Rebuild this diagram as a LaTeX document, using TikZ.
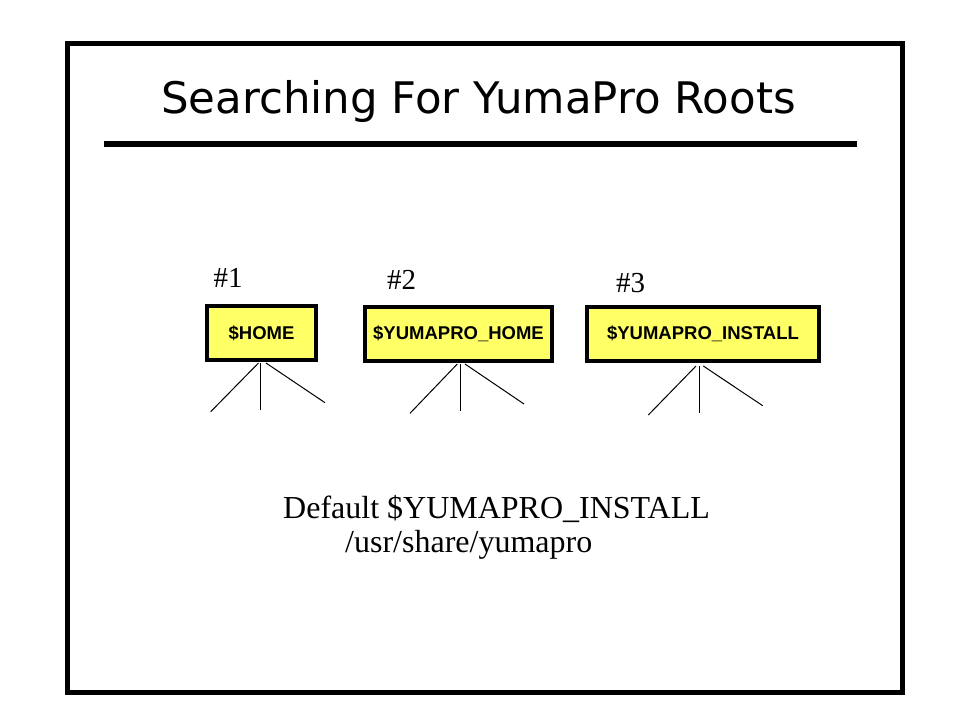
\documentclass[tikz,border=0pt]{standalone}
\usepackage{fontspec}
\setmainfont{Liberation Serif}
\newfontfamily\boxfont{Liberation Sans}
\newfontfamily\titlefont{DejaVu Sans}
\definecolor{boxyellow}{RGB}{255,255,102}
\begin{document}
\begin{tikzpicture}[x=1pt,y=-1pt,
  varbox/.style={draw=black,line width=4pt,fill=boxyellow,inner sep=0pt,
    minimum height=54pt,font=\boxfont\bfseries\fontsize{18.5}{22}\selectfont},
  numlabel/.style={anchor=base,inner sep=0pt,font=\fontsize{29}{32}\selectfont},
  branch/.style={line width=1pt,black},
  bodytext/.style={anchor=base west,inner sep=0pt,font=\fontsize{32}{36}\selectfont}]
\useasboundingbox (0,0) rectangle (960,720);
\draw[line width=5pt] (67.5,43) rectangle (902.5,692.5);
\node[anchor=base,inner sep=0pt,font=\titlefont\fontsize{43.5}{50}\selectfont] (title) at (478.5,113) {Searching For YumaPro Roots};
\draw[line width=6pt] (104,144) coordinate (rl) -- (857,144) coordinate (rr);
\node[varbox,minimum width=109pt] (b1) at (261.5,333) {\$HOME};
\node[varbox,minimum width=187pt] (b2) at (458.5,334) {\$YUMAPRO\_HOME};
\node[varbox,minimum width=232pt] (b3) at (703,334) {\$YUMAPRO\_INSTALL};
\node[numlabel] (n1) at (228,287) {\#1};
\node[numlabel] (n2) at (401.5,289.5) {\#2};
\node[numlabel] (n3) at (630.5,292.5) {\#3};
\coordinate (l1a) at (210.7,411.7);
\coordinate (l1b) at (260.7,410);
\coordinate (l1c) at (325,402.7);
\coordinate (l2a) at (410,413.3);
\coordinate (l2b) at (460,411);
\coordinate (l2c) at (524,404);
\coordinate (l3a) at (648.3,415);
\coordinate (l3b) at (699,413.3);
\coordinate (l3c) at (762.7,405.7);
\draw[branch] ([xshift=-3pt,yshift=-1pt]b1.south) -- (l1a);
\draw[branch] ([xshift=-0.8pt,yshift=-1pt]b1.south) -- (l1b);
\draw[branch] ([xshift=4.5pt,yshift=-1pt]b1.south) -- (l1c);
\draw[branch] ([xshift=-1.2pt,yshift=-1pt]b2.south) -- (l2a);
\draw[branch] ([xshift=1.5pt,yshift=-1pt]b2.south) -- (l2b);
\draw[branch] ([xshift=6.5pt,yshift=-1pt]b2.south) -- (l2c);
\draw[branch] ([xshift=-7pt,yshift=-3pt]b3.south) -- (l3a);
\draw[branch] ([xshift=-4pt,yshift=-3pt]b3.south) -- (l3b);
\draw[branch] ([xshift=0.3pt,yshift=-3pt]b3.south) -- (l3c);
\node[bodytext] (d1) at (283,518) {Default \$YUMAPRO\_INSTALL};
\node[bodytext] (d2) at (345,552) {/usr/share/yumapro};
\end{tikzpicture}
\end{document}
